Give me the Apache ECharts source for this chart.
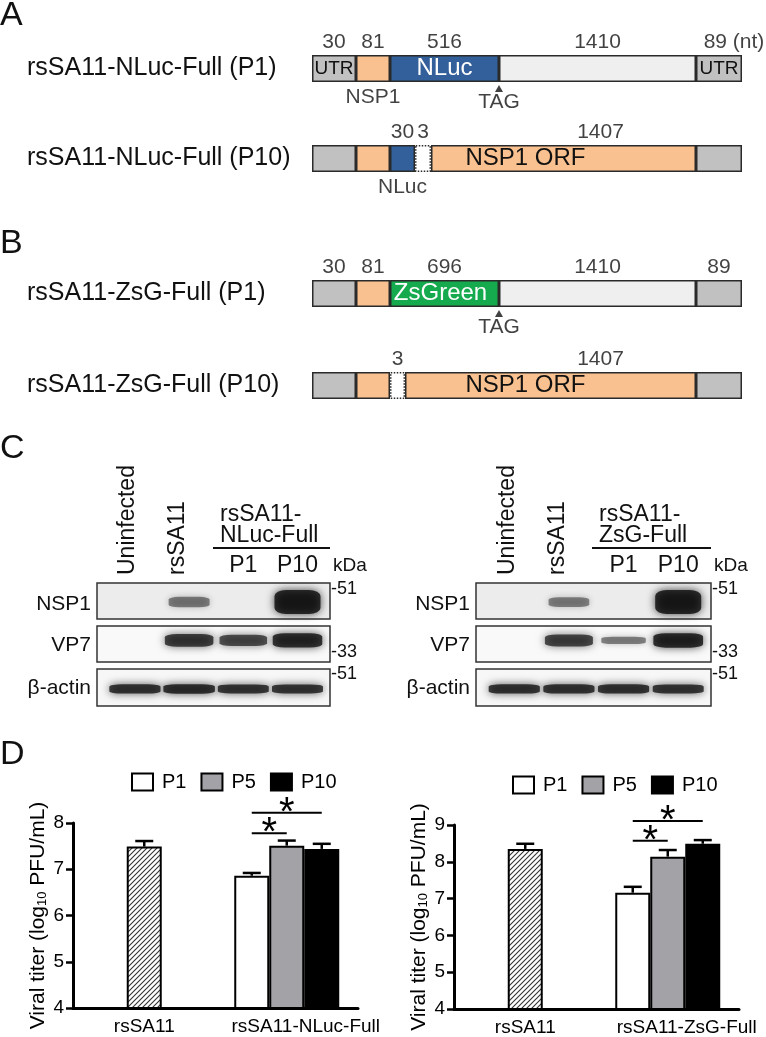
<!DOCTYPE html>
<html>
<head>
<meta charset="utf-8">
<script src="https://cdn.jsdelivr.net/npm/echarts@6/dist/echarts.min.js"></script>
<style>
html, body { margin: 0; padding: 0; background: #fff; }
#main { width: 766px; height: 1037px; }
</style>
</head>
<body>
<div id="main"></div>
<script>
// ---------- A / B : genome schematics ----------
var rowNames = ['rsSA11-NLuc-Full (P1)', 'rsSA11-NLuc-Full (P10)', 'rsSA11-ZsG-Full (P1)', 'rsSA11-ZsG-Full (P10)'];
// drawn segment lengths (schematic, not to scale)
var segLen = [
	[44, 34, 109, 197, 46],
	[44, 34, 25, 16, 265, 46],
	[44, 34, 109, 197, 46],
	[44, 34, 15, 291, 46]
];
var segKind = [
	['utr', 'nsp1', 'nluc', 'rest', 'utr'],
	['utr', 'nsp1', 'nluc', 'gap', 'nsp1', 'utr'],
	['utr', 'nsp1', 'zsg', 'rest', 'utr'],
	['utr', 'nsp1', 'gap', 'nsp1', 'utr']
];
var ntLabels = [
	['30', '81', '516', '1410', '89 (nt)'],
	['', '', '30', '3', '1407', ''],
	['30', '81', '696', '1410', '89'],
	['', '', '3', '1407', '']
];
var innerLabels = [
	['UTR', '', 'NLuc', '', 'UTR'],
	['', '', '', '', 'NSP1 ORF', ''],
	['', '', 'ZsGreen', '', ''],
	['', '', '', 'NSP1 ORF', '']
];
var belowLabels = [[[1, 'NSP1']], [[2, 'NLuc']], [], []];
var tagAfterSeg = [2, -1, 2, -1];

// ---------- C : western blots (band intensity 0..1, lanes) ----------
var laneNames = ['Uninfected', 'rsSA11', 'P1', 'P10'];
var blotProteins = ['NSP1', 'VP7', 'β-actin'];
var nlucNSP1 = [0, 0.45, 0, 1.0];
var nlucVP7 = [0, 0.85, 0.75, 0.95];
var nlucActin = [0.92, 0.95, 0.9, 0.9];
var zsgNSP1 = [0, 0.42, 0, 1.0];
var zsgVP7 = [0, 0.8, 0.45, 0.97];
var zsgActin = [0.92, 0.92, 0.92, 0.9];
var markerKDa = ['51', '33', '51'];

// ---------- D : viral titers (log10 PFU/mL) ----------
var passages = ['P1', 'P5', 'P10'];
var nlucCats = ['rsSA11', 'rsSA11-NLuc-Full'];
var zsgCats = ['rsSA11', 'rsSA11-ZsG-Full'];
var nlucParent = 7.49, nlucParentErr = 0.12;
var nlucMean = [6.86, 7.51, 7.44];
var nlucErr = [0.06, 0.11, 0.11];
var zsgParent = 8.35, zsgParentErr = 0.14;
var zsgMean = [7.16, 8.14, 8.49];
var zsgErr = [0.16, 0.18, 0.1];
var nlucSig = [[0, 1], [0, 2]];
var zsgSig = [[0, 1], [0, 2]];

var FONT = '"Liberation Sans", Arial, Helvetica, sans-serif';
var grids = [], xAxes = [], yAxes = [], series = [], graphics = [];

function txt(x, y, s, size, align, rot) {
	return {
		type: 'text', x: x, y: y, rotation: rot || 0, silent: true,
		style: { text: s, fontSize: size, fontFamily: FONT, fill: '#111', align: align || 'center', verticalAlign: 'middle' }
	};
}
function hline(x1, x2, y, w) {
	return { type: 'line', silent: true, shape: { x1: x1, y1: y, x2: x2, y2: y }, style: { stroke: '#111', lineWidth: w || 2 } };
}

// ---- schematic rows ----
var kindColor = { utr: '#c1c1c1', nsp1: '#f9c18f', nluc: '#33609a', zsg: '#16aa4e', rest: '#efefef', gap: '#ffffff' };
var rowTop = [55, 145, 280, 372];
var ROW_H = 27, ROW_LEFT = 312, ROW_W = 430;
var ntShift = [[0, 0, 0, 0, 15], [0, 0, 0, 0, 37, 0], [0, 0, 0, 0, 0], [0, 0, 0, 50, 0]];
var innerShift = [[0, 0, 0, 0, 0], [0, 0, 0, 0, -38, 0], [0, 0, -4, 0, 0], [0, 0, 0, -25, 0]];

for (var r = 0; r < segLen.length; r++) {
	var g = grids.length;
	var total = segLen[r].reduce(function (a, b) { return a + b; }, 0);
	grids.push({ left: ROW_LEFT, top: rowTop[r], width: ROW_W, height: ROW_H });
	xAxes.push({ type: 'value', gridIndex: g, min: 0, max: total, show: false });
	yAxes.push({
		type: 'category', gridIndex: g, data: [rowNames[r]],
		axisLine: { show: false }, axisTick: { show: false }, splitLine: { show: false },
		axisLabel: { align: 'left', margin: ROW_LEFT - 27, fontSize: 25, fontFamily: FONT, color: '#111' }
	});
	var cum = 0, pts = [], mids = [], ends = [];
	for (var i = 0; i < segLen[r].length; i++) {
		var kind = segKind[r][i];
		var inner = innerLabels[r][i];
		series.push({
			type: 'bar', xAxisIndex: g, yAxisIndex: g, stack: 'row' + r, barWidth: ROW_H,
			silent: true, data: [segLen[r][i]],
			itemStyle: { color: kindColor[kind], borderColor: '#2a2a2a', borderWidth: 1.5, borderType: kind == 'gap' ? 'dotted' : 'solid' },
			label: {
				show: !!inner, position: 'inside', formatter: inner, offset: [innerShift[r][i], 0],
				color: (kind == 'nluc' || kind == 'zsg') ? '#fff' : '#111',
				fontSize: inner == 'UTR' ? 19 : 24, fontFamily: FONT
			}
		});
		mids.push(cum + segLen[r][i] / 2);
		cum += segLen[r][i];
		ends.push(cum);
		if (ntLabels[r][i]) {
			pts.push({ value: [mids[i], 0], label: { formatter: ntLabels[r][i], offset: [ntShift[r][i], -26] } });
		}
	}
	belowLabels[r].forEach(function (b) {
		pts.push({ value: [mids[b[0]], 0], label: { formatter: b[1], offset: [0, 29] } });
	});
	if (tagAfterSeg[r] >= 0) {
		var bx = ends[tagAfterSeg[r]];
		pts.push({ value: [bx, 0], label: { formatter: 'TAG', offset: [0, 34] } });
		series.push({
			type: 'scatter', xAxisIndex: g, yAxisIndex: g, silent: true, clip: false,
			symbol: 'triangle', symbolSize: [8, 7], symbolOffset: [0, 20],
			itemStyle: { color: '#111' }, data: [[bx, 0]], z: 5
		});
	}
	series.push({
		type: 'scatter', xAxisIndex: g, yAxisIndex: g, silent: true, clip: false,
		symbolSize: 1, itemStyle: { color: 'rgba(0,0,0,0)' }, data: pts, z: 5,
		label: { show: true, position: 'inside', fontSize: 21, fontFamily: FONT, color: '#111' }
	});
}

// ---- blots ----
var blots = [
	{ left: 97, width: 233, rows: [nlucNSP1, nlucVP7, nlucActin], head: ['rsSA11-', 'NLuc-Full'] },
	{ left: 476, width: 235, rows: [zsgNSP1, zsgVP7, zsgActin], head: ['rsSA11-', 'ZsG-Full'] }
];
var stripTop = [583, 626, 669], stripH = [36, 36, 37];
var bandY = [0.47, 0.6, 0.46], bandHMax = [24, 15, 10], bandW = [46, 50, 52];
var stripBg = ['#ececec', '#f9f9f9', '#f7f7f7'];
var labelY = [604, 645, 688];

blots.forEach(function (bl, b) {
	for (var k = 0; k < 3; k++) {
		var g = grids.length;
		grids.push({
			left: bl.left, top: stripTop[k], width: bl.width, height: stripH[k],
			show: true, backgroundColor: stripBg[k], borderColor: '#333', borderWidth: 1.5
		});
		xAxes.push({ type: 'value', gridIndex: g, min: -0.7, max: 3.6, show: false });
		yAxes.push({ type: 'value', gridIndex: g, min: 0, max: 1, show: false });
		var data = [];
		bl.rows[k].forEach(function (v, i) {
			if (v <= 0) return;
			data.push({
				value: [i, bandY[k]],
				symbolSize: [bandW[k] * (0.8 + 0.2 * v), 3 + (bandHMax[k] - 3) * Math.pow(v, 1.3)],
				itemStyle: {
					color: 'rgba(10,10,10,' + (0.2 + 0.8 * v).toFixed(2) + ')',
					shadowBlur: 5 + 4 * v, shadowColor: 'rgba(0,0,0,' + (0.25 + 0.65 * v).toFixed(2) + ')'
				}
			});
		});
		series.push({
			type: 'scatter', xAxisIndex: g, yAxisIndex: g, silent: true,
			symbol: 'roundRect', data: data
		});
		graphics.push(txt(bl.left - 6, labelY[k], blotProteins[k], 21, 'right'));
	}
	var R = bl.left + bl.width;
	graphics.push(txt(R + 1, 589, '-' + markerKDa[0], 18, 'left'));
	graphics.push(txt(R + 1, 652, '-' + markerKDa[1], 18, 'left'));
	graphics.push(txt(R + 1, 674, '-' + markerKDa[2], 18, 'left'));
	graphics.push(txt(R + 3, 566, 'kDa', 19, 'left'));
	// lane headers
	var lx = function (i) { return bl.left + (i + 0.7) / 4.3 * bl.width; };
	graphics.push(txt(lx(0) - 7, 575, laneNames[0], 23, 'left', Math.PI / 2));
	graphics.push(txt(lx(1) - 11, 575, laneNames[1], 23, 'left', Math.PI / 2));
	graphics.push(txt(lx(2), 566, laneNames[2], 23, 'center'));
	graphics.push(txt(lx(3), 566, laneNames[3], 23, 'center'));
	graphics.push(txt(bl.left + 123, 515, bl.head[0], 23, 'left'));
	graphics.push(txt(bl.left + 123, 536, bl.head[1], 23, 'left'));
	graphics.push(hline(bl.left + 116, bl.left + bl.width, 548, 2));
});

// ---- D : titer bar charts ----
var BAR_W = 35;
function hatchPattern() {
	var c = document.createElement('canvas');
	c.width = 5; c.height = 5;
	var x = c.getContext('2d');
	x.fillStyle = '#fff'; x.fillRect(0, 0, 5, 5);
	x.strokeStyle = '#333'; x.lineWidth = 1.1;
	x.beginPath();
	x.moveTo(0, 5); x.lineTo(5, 0);
	x.moveTo(-1, 1); x.lineTo(1, -1);
	x.moveTo(4, 6); x.lineTo(6, 4);
	x.stroke();
	return c;
}
var hatch = { image: hatchPattern(), repeat: 'repeat' };
var barColors = ['#ffffff', '#a2a2a7', '#000000'];

function titerChart(gridCfg, cats, ymax, parent, parentErr, mean, err, sig, sigLevels, legendPos) {
	var g = grids.length;
	grids.push(gridCfg);
	xAxes.push({
		type: 'category', gridIndex: g,
		data: [cats[0], { value: cats[1], textStyle: { padding: [0, 0, 0, 38] } }],
		axisLine: { lineStyle: { color: '#000', width: 3 } },
		axisTick: { alignWithLabel: true, length: 7, lineStyle: { color: '#000', width: 2.5 } },
		axisLabel: { interval: 0, hideOverlap: false, fontSize: 19, fontFamily: FONT, color: '#000', margin: 9 }
	});
	yAxes.push({
		type: 'value', gridIndex: g, min: 4, max: ymax, interval: 1,
		splitLine: { show: false },
		axisLine: { show: true, lineStyle: { color: '#000', width: 3 } },
		axisTick: { show: true, length: 7, lineStyle: { color: '#000', width: 2.5 } },
		axisLabel: { fontSize: 19, fontFamily: FONT, color: '#000', margin: 9 },
		name: 'Viral titer (log{s|10} PFU/mL)', nameLocation: 'middle', nameGap: 24, nameRotate: 90,
		nameTextStyle: {
			fontSize: 21, fontFamily: FONT, color: '#000',
			rich: { s: { fontSize: 13, fontFamily: FONT, color: '#000', verticalAlign: 'bottom', padding: [8, 0, 0, 0] } }
		}
	});
	var stacks = ['a', 'b', 'c'];
	for (var i = 0; i < 3; i++) {
		series.push({
			name: passages[i], type: 'bar', xAxisIndex: g, yAxisIndex: g, stack: 's' + g + stacks[i],
			barWidth: BAR_W, barGap: '0%', silent: true,
			data: ['-', mean[i]],
			itemStyle: { color: barColors[i], borderColor: '#000', borderWidth: 2 }
		});
		if (i == 1) {
			series.push({
				name: 'rsSA11', type: 'bar', xAxisIndex: g, yAxisIndex: g, stack: 's' + g + stacks[i],
				barWidth: BAR_W, barGap: '0%', silent: true,
				data: [parent, '-'],
				itemStyle: { color: hatch, borderColor: '#000', borderWidth: 2 }
			});
		}
	}
	var errData = [[0, 0, parent, parentErr]];
	for (var j = 0; j < 3; j++) errData.push([1, j - 1, mean[j], err[j]]);
	series.push({
		type: 'custom', xAxisIndex: g, yAxisIndex: g, silent: true, z: 4,
		encode: { x: 0, y: 2 }, data: errData,
		renderItem: function (params, api) {
			var base = api.coord([api.value(0), api.value(2)]);
			var top = api.coord([api.value(0), api.value(2) + api.value(3)]);
			var x = base[0] + api.value(1) * BAR_W;
			return {
				type: 'group', children: [
					{ type: 'line', shape: { x1: x, y1: base[1], x2: x, y2: top[1] }, style: { stroke: '#000', lineWidth: 2.5 } },
					{ type: 'line', shape: { x1: x - 9, y1: top[1], x2: x + 9, y2: top[1] }, style: { stroke: '#000', lineWidth: 2.5 } }
				]
			};
		}
	});
	var sigData = sig.map(function (s, k) { return [1, s[0] - 1, s[1] - 1, sigLevels[k]]; });
	series.push({
		type: 'custom', xAxisIndex: g, yAxisIndex: g, silent: true, clip: false, z: 4,
		encode: { x: 0, y: 3 }, data: sigData,
		renderItem: function (params, api) {
			var p = api.coord([api.value(0), api.value(3)]);
			var x1 = p[0] + api.value(1) * BAR_W, x2 = p[0] + api.value(2) * BAR_W;
			return {
				type: 'group', children: [
					{ type: 'line', shape: { x1: x1, y1: p[1], x2: x2, y2: p[1] }, style: { stroke: '#000', lineWidth: 2 } },
					{ type: 'text', x: (x1 + x2) / 2, y: p[1] + 1, style: { text: '*', fontSize: 40, fontFamily: FONT, fill: '#000', align: 'center', verticalAlign: 'middle' } }
				]
			};
		}
	});
	return {
		left: legendPos[0], top: legendPos[1], icon: 'rect', itemWidth: 21, itemHeight: 17, itemGap: 14,
		selectedMode: false, data: passages,
		itemStyle: { borderColor: '#000', borderWidth: 2 },
		textStyle: { fontSize: 20, fontFamily: FONT, color: '#000', padding: [0, 0, 0, 4] }
	};
}

var legends = [];
legends.push(titerChart({ left: 73, top: 823, width: 285, height: 185 }, nlucCats, 8,
	nlucParent, nlucParentErr, nlucMean, nlucErr, nlucSig, [7.78, 8.22], [126, 767]));
legends.push(titerChart({ left: 454, top: 825, width: 285, height: 185 }, zsgCats, 9,
	zsgParent, zsgParentErr, zsgMean, zsgErr, zsgSig, [8.57, 9.11], [507, 770]));

// panel letters
graphics.push(txt(0, 16, 'A', 34, 'left'));
graphics.push(txt(0, 244, 'B', 34, 'left'));
graphics.push(txt(0, 449, 'C', 34, 'left'));
graphics.push(txt(0, 755, 'D', 34, 'left'));

var myChart = echarts.init(document.getElementById('main'));
var option = {
	animation: false,
	backgroundColor: '#fff',
	grid: grids,
	xAxis: xAxes,
	yAxis: yAxes,
	legend: legends,
	series: series,
	graphic: { elements: graphics }
};
myChart.setOption(option);
</script>
</body>
</html>
